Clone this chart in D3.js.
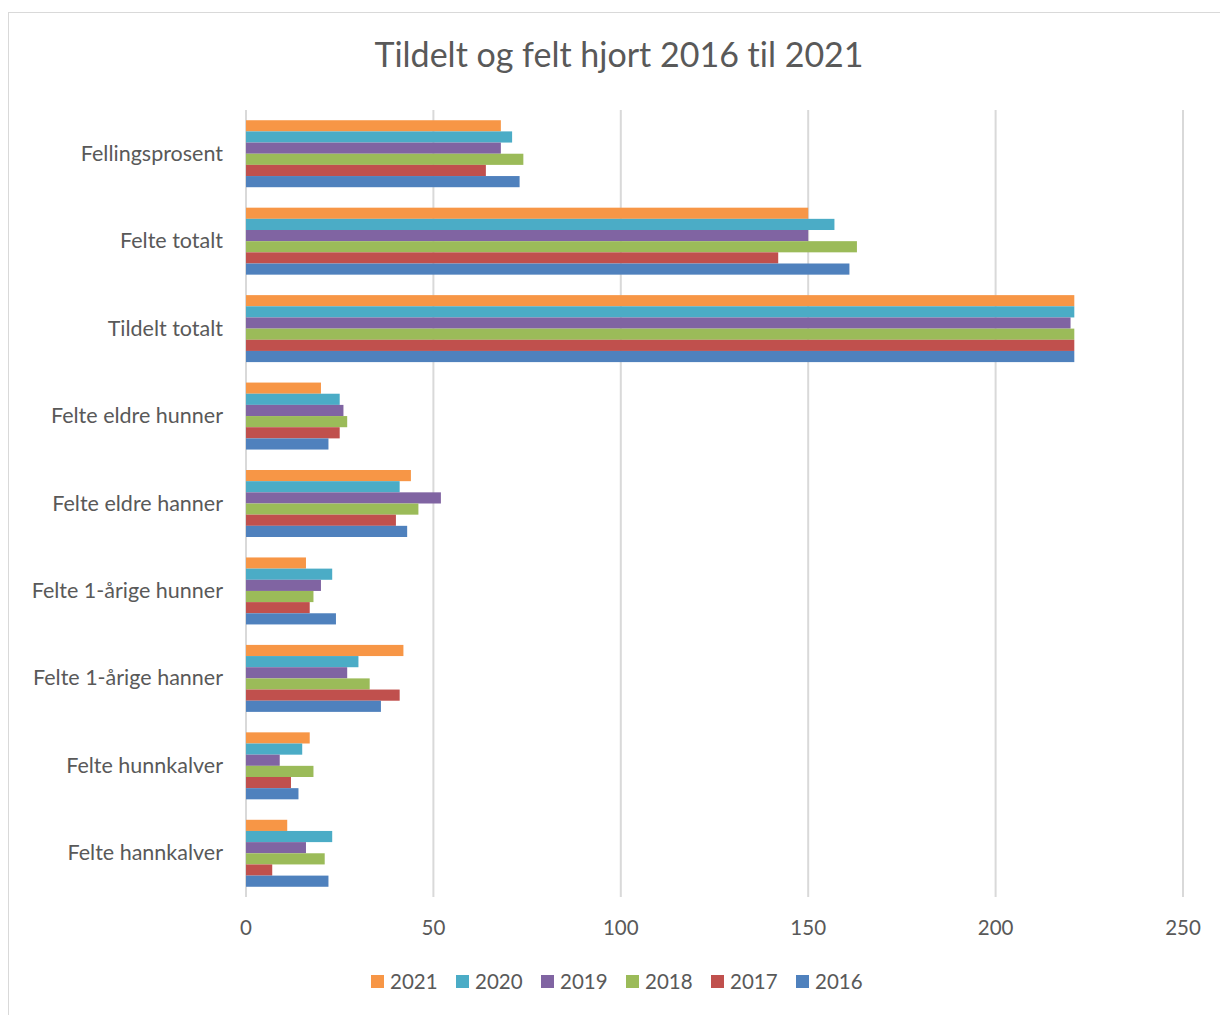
<!DOCTYPE html>
<html lang="no">
<head>
<meta charset="utf-8">
<title>Tildelt og felt hjort</title>
<script src="https://cdn.jsdelivr.net/npm/d3@7"></script>
<style>
  body { margin: 0; background: #fff; }
  text { font-family: Lato, "Liberation Sans", sans-serif; fill: #595959; font-variant-ligatures: none; }
</style>
</head>
<body>
<script>
"use strict";

// categories, top to bottom
const categories = ["Fellingsprosent", "Felte totalt", "Tildelt totalt", "Felte eldre hunner",
  "Felte eldre hanner", "Felte 1-årige hunner", "Felte 1-årige hanner", "Felte hunnkalver", "Felte hannkalver"];

// series, top to bottom inside a group
const years = ["2021", "2020", "2019", "2018", "2017", "2016"];
const colors = ["#F79646", "#4BACC6", "#8064A2", "#9BBB59", "#C0504D", "#4F81BD"];

const v2021 = [68, 150, 221, 20, 44, 16, 42, 17, 11];
const v2020 = [71, 157, 221, 25, 41, 23, 30, 15, 23];
const v2019 = [68, 150, 220, 26, 52, 20, 27, 9, 16];
const v2018 = [74, 163, 221, 27, 46, 18, 33, 18, 21];
const v2017 = [64, 142, 221, 25, 40, 17, 41, 12, 7];
const v2016 = [73, 161, 221, 22, 43, 24, 36, 14, 22];
const series = [v2021, v2020, v2019, v2018, v2017, v2016];

const xTicks = [0, 50, 100, 150, 200, 250];

const W = 1220, H = 1015;
const plot = {left: 246, right: 1183, top: 110, bottom: 897};

const svg = d3.select("body").append("svg")
  .attr("width", W).attr("height", H);

// chart frame
svg.append("rect")
  .attr("x", 8.5).attr("y", 12.5)
  .attr("width", 1300).attr("height", 1100)
  .attr("fill", "none").attr("stroke", "#d9d9d9").attr("stroke-width", 1);

svg.append("text")
  .attr("x", 619).attr("y", 67)
  .attr("text-anchor", "middle")
  .style("font-size", "34px")
  .text("Tildelt og felt hjort 2016 til 2021");

let x = d3.scaleLinear().domain([0, 250]).range([plot.left, plot.right]);
let y0 = d3.scaleBand().domain(categories).range([plot.top, plot.bottom])
  .paddingInner(0.234).paddingOuter(0.117);
let y1 = d3.scaleBand().domain(years).range([0, y0.bandwidth()]);

// gridlines
svg.append("g").selectAll("line")
  .data(xTicks)
  .enter().append("line")
  .attr("x1", d => x(d)).attr("x2", d => x(d))
  .attr("y1", plot.top).attr("y2", plot.bottom)
  .attr("stroke", "#d9d9d9").attr("stroke-width", 2);

// bars
let groups = svg.append("g").selectAll("g")
  .data(categories)
  .enter().append("g")
  .attr("transform", d => "translate(0," + y0(d) + ")");

groups.selectAll("rect")
  .data((c, ci) => years.map((yr, si) => ({yr: yr, si: si, v: series[si][ci]})))
  .enter().append("rect")
  .attr("x", x(0))
  .attr("y", d => y1(d.yr))
  .attr("width", d => x(d.v) - x(0))
  .attr("height", y1.bandwidth())
  .attr("fill", d => colors[d.si]);

// category labels
svg.append("g").selectAll("text")
  .data(categories)
  .enter().append("text")
  .attr("x", 223)
  .attr("y", d => y0(d) + y0.bandwidth() / 2 + 7)
  .attr("text-anchor", "end")
  .style("font-size", "21.5px")
  .text(d => d);

// x tick labels
svg.append("g").selectAll("text")
  .data(xTicks)
  .enter().append("text")
  .attr("x", d => x(d))
  .attr("y", 935)
  .attr("text-anchor", "middle")
  .style("font-size", "20.5px")
  .text(d => d);

// legend
let legend = svg.append("g").selectAll("g")
  .data(years)
  .enter().append("g")
  .attr("transform", (d, i) => "translate(" + (371 + i * 85) + ",975)");
legend.append("rect")
  .attr("width", 13).attr("height", 13)
  .attr("fill", (d, i) => colors[i]);
legend.append("text")
  .attr("x", 19).attr("y", 14)
  .style("font-size", "20.5px")
  .text(d => d);
</script>
</body>
</html>
